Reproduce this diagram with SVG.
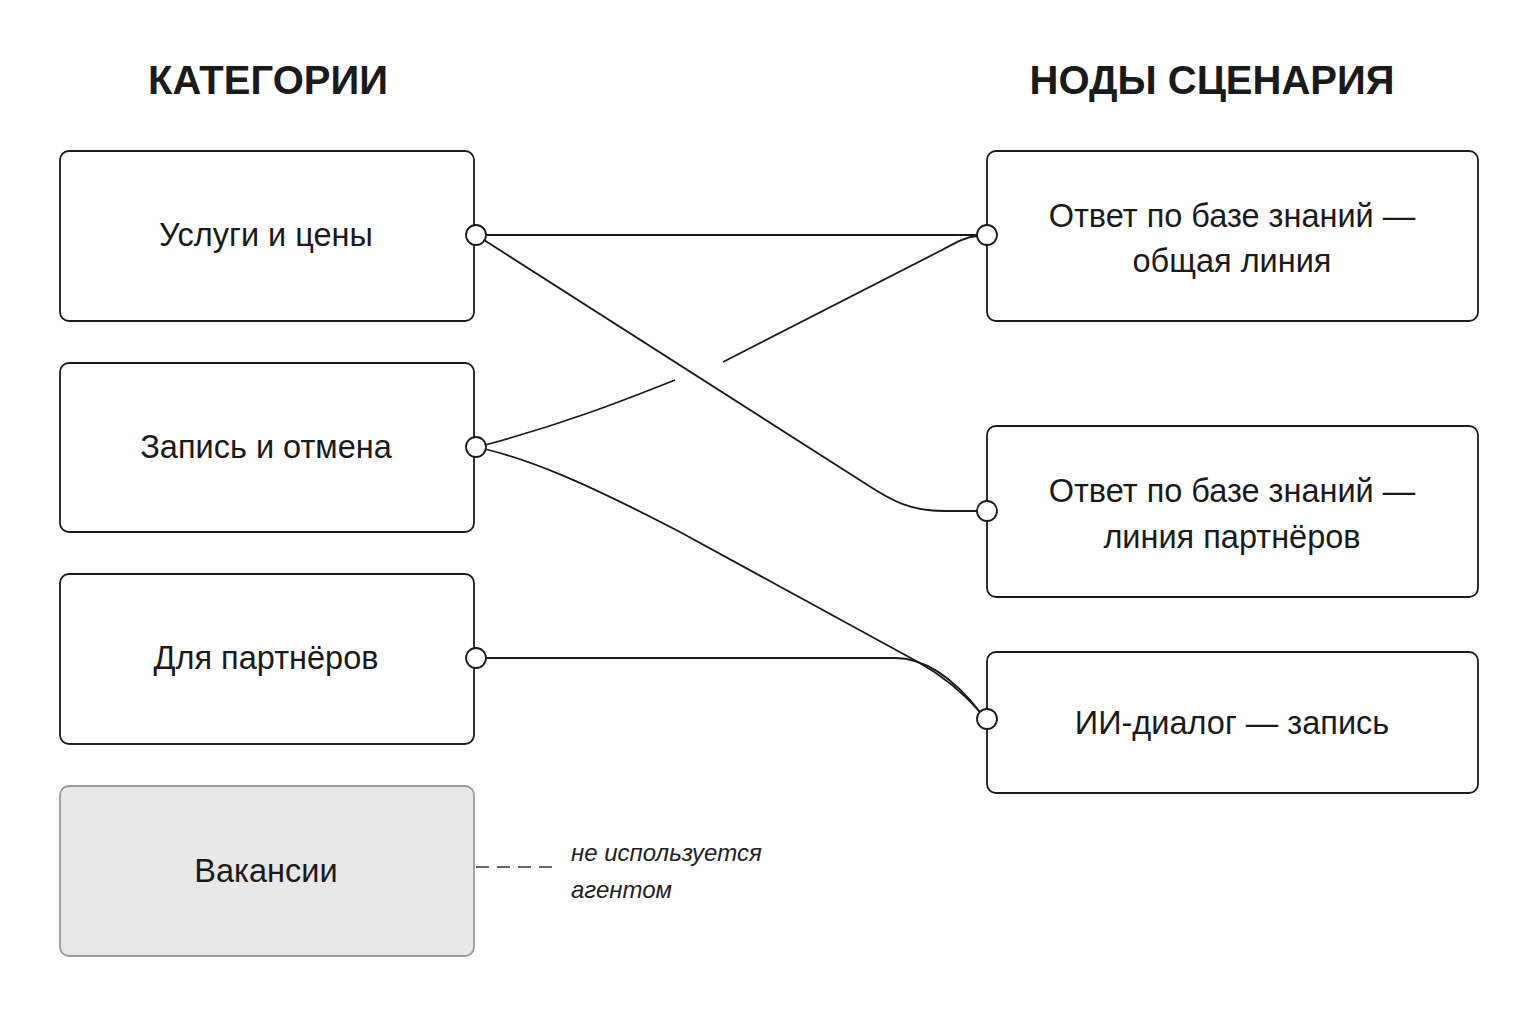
<svg xmlns="http://www.w3.org/2000/svg" width="1536" height="1024" viewBox="0 0 1536 1024">
<style>
.bg{fill:#ffffff}
.title{font-family:"Liberation Sans",Arial,sans-serif;font-weight:bold;font-size:40px;fill:#1a1a1a;text-anchor:middle}
.box{fill:#ffffff;stroke:#1a1a1a;stroke-width:1.8}
.box-off{fill:#e8e8e8;stroke:#9a9a9a;stroke-width:1.8}
.lbl{font-family:"Liberation Sans",Arial,sans-serif;font-size:32.5px;fill:#1a1a1a;text-anchor:middle}
.port{fill:#ffffff;stroke:#1a1a1a;stroke-width:1.8}
.conn{fill:none;stroke:#1a1a1a;stroke-width:1.8}
.dash{fill:none;stroke:#333;stroke-width:1.6;stroke-dasharray:13 8}
.note{font-family:"Liberation Sans",Arial,sans-serif;font-style:italic;font-size:24px;fill:#222}
</style>
<rect class="bg" x="0" y="0" width="1536" height="1024"/>
<text class="title" x="268" y="94">КАТЕГОРИИ</text>
<text class="title" x="1212" y="94">НОДЫ СЦЕНАРИЯ</text>

<g id="connectors">
<path class="conn" d="M486,235 L977,235"/>
<path class="conn" d="M484,240 L866,484 C892,501 910,511 945,511 L977,511"/>
<path class="conn" d="M485,445 C560,425 620,402 675,380"/>
<path class="conn" d="M723,362 L940,251 C955,243 965,237 977,236"/>
<path class="conn" d="M485,449 C530,460 580,480 680,532 L918,662 C945,677 965,695 980,712"/>
<path class="conn" d="M486,658 L895,658 C930,658 958,684 980,712"/>
<path class="dash" d="M476,867 L560,867"/>
<text class="note" x="571" y="861">не используется</text>
<text class="note" x="571" y="898">агентом</text>
</g>

<g id="cat-uslugi">
<rect class="box" x="60" y="151" width="414" height="170" rx="9"/>
<text class="lbl" x="266" y="246">Услуги и цены</text>
<circle class="port" cx="476" cy="235" r="10"/>
</g>
<g id="cat-zapis">
<rect class="box" x="60" y="363" width="414" height="169" rx="9"/>
<text class="lbl" x="266" y="458">Запись и отмена</text>
<circle class="port" cx="476" cy="447" r="10"/>
</g>
<g id="cat-partners">
<rect class="box" x="60" y="574" width="414" height="170" rx="9"/>
<text class="lbl" x="266" y="669">Для партнёров</text>
<circle class="port" cx="476" cy="658" r="10"/>
</g>
<g id="cat-vacancies">
<rect class="box-off" x="60" y="786" width="414" height="170" rx="9"/>
<text class="lbl" x="266" y="882">Вакансии</text>
</g>

<g id="node-kb-general">
<rect class="box" x="987" y="151" width="491" height="170" rx="9"/>
<text class="lbl" x="1232" y="227">Ответ по базе знаний —</text>
<text class="lbl" x="1232" y="272">общая линия</text>
<circle class="port" cx="987" cy="235" r="10"/>
</g>
<g id="node-kb-partners">
<rect class="box" x="987" y="426" width="491" height="171" rx="9"/>
<text class="lbl" x="1232" y="502">Ответ по базе знаний —</text>
<text class="lbl" x="1232" y="548">линия партнёров</text>
<circle class="port" cx="987" cy="511" r="10"/>
</g>
<g id="node-ai-dialog">
<rect class="box" x="987" y="652" width="491" height="141" rx="9"/>
<text class="lbl" x="1232" y="734">ИИ-диалог — запись</text>
<circle class="port" cx="987" cy="719" r="10"/>
</g>
</svg>
